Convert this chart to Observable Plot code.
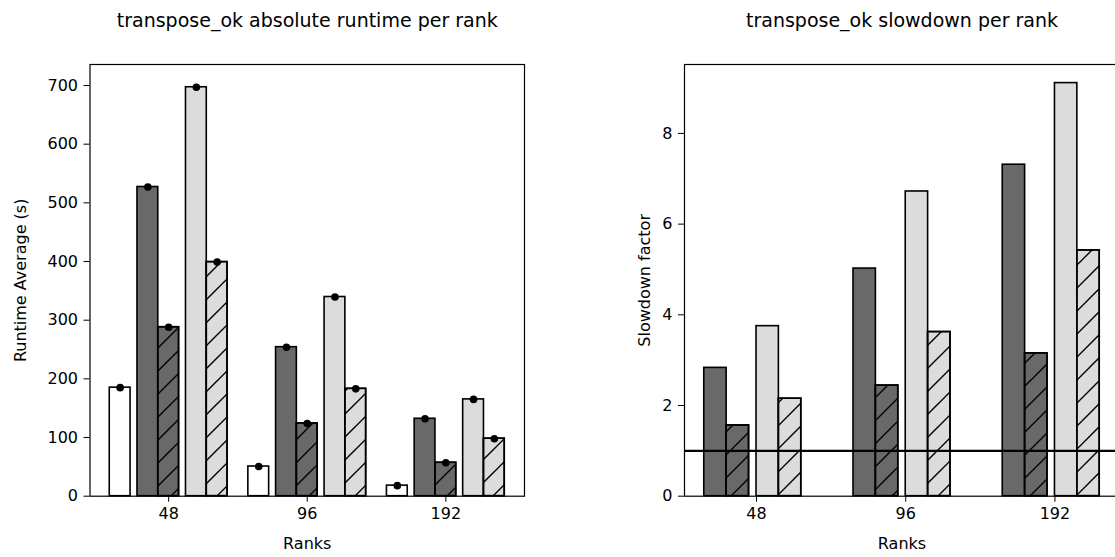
<!DOCTYPE html>
<html><head><meta charset="utf-8">
<script src="https://cdn.jsdelivr.net/npm/d3@7"></script>
<script src="https://cdn.jsdelivr.net/npm/@observablehq/plot@0.6"></script>
<style>
html,body{margin:0;padding:0;background:#fff;overflow:hidden;width:1115px;height:557px}
#wrap{position:relative;width:1115px;height:557px;overflow:hidden}
#wrap > svg{position:absolute;top:0}
</style></head><body>
<svg width="0" height="0" style="position:absolute">
<defs><pattern id="hatch" patternUnits="userSpaceOnUse" width="23" height="23">
<path d="M-3,3 L3,-3 M0,23 L23,0 M20,26 L26,20" stroke="#000" stroke-width="1.4" fill="none"/>
</pattern></defs></svg>
<div id="wrap"></div>
<script>
// ---- data ----
const ranks = ["48", "96", "192"];
// absolute runtime (s)
const runtimeBase       = [185, 50.6, 18];
const runtimeDark       = [527, 254, 132];
const runtimeDarkHatch  = [288, 124, 57];
const runtimeLight      = [697, 339.5, 165];
const runtimeLightHatch = [399, 183, 98];
// small error extents (s)
const errBase       = [1, 1, 1];
const errDark       = [2, 2, 4];
const errDarkHatch  = [2, 2, 2];
const errLight      = [1, 2, 1];
const errLightHatch = [1, 1, 1];
// slowdown factor
const slowDark       = [2.83, 5.02, 7.31];
const slowDarkHatch  = [1.56, 2.44, 3.15];
const slowLight      = [3.75, 6.72, 9.11];
const slowLightHatch = [2.15, 3.62, 5.42];
const baselineFactor = [1];
const yTicksLeft  = [0, 100, 200, 300, 400, 500, 600, 700];
const yTicksRight = [0, 2, 4, 6, 8];

// ---- style / layout ----
const FONT = "DejaVu Sans";
const TICK_FS = 16, TITLE_FS = 19;
const DARK = "#696969", LIGHT = "#dcdcdc", WHITE = "#ffffff";
const BW = 0.15;

function rows(vals, errs, off, fill, hatch) {
  return vals.map((v, i) => ({g: i, value: v, err: errs ? errs[i] : 0, off, fill, hatch}));
}

const leftRows = [
  ...rows(runtimeBase, errBase, -0.35, WHITE, false),
  ...rows(runtimeDark, errDark, -0.15, DARK, false),
  ...rows(runtimeDarkHatch, errDarkHatch, 0, DARK, true),
  ...rows(runtimeLight, errLight, 0.2, LIGHT, false),
  ...rows(runtimeLightHatch, errLightHatch, 0.35, LIGHT, true)
];
const rightRows = [
  ...rows(slowDark, null, -0.275, DARK, false),
  ...rows(slowDarkHatch, null, -0.125, DARK, true),
  ...rows(slowLight, null, 0.075, LIGHT, false),
  ...rows(slowLightHatch, null, 0.225, LIGHT, true)
];

function barMarks(data) {
  const x1 = d => d.g + d.off - BW / 2, x2 = d => d.g + d.off + BW / 2;
  return [
    Plot.rectY(data, {x1, x2, y1: 0, y2: "value", fill: "fill", stroke: "#000", strokeWidth: 1.6}),
    Plot.rectY(data.filter(d => d.hatch), {x1, x2, y1: 0, y2: "value", fill: "url(#hatch)", stroke: "#000", strokeWidth: 1.6})
  ];
}

function common(title, ylabel, ylabelDx, ticks) {
  return [
    Plot.frame({stroke: "#000", strokeWidth: 1.2}),
    Plot.axisY({ticks, tickSize: 6, tickPadding: 6, fontSize: TICK_FS, label: null}),
    Plot.axisX({ticks: [0, 1, 2], tickFormat: i => ranks[i], tickSize: 6, tickPadding: 5, fontSize: TICK_FS, label: null}),
    Plot.text([title], {text: d => d, frameAnchor: "top", dy: -44, fontSize: TITLE_FS, lineAnchor: "middle", textAnchor: "middle"}),
    Plot.text([ylabel], {text: d => d, frameAnchor: "left", dx: ylabelDx, rotate: -90, fontSize: TICK_FS, lineAnchor: "middle", textAnchor: "middle"}),
    Plot.text(["Ranks"], {text: d => d, frameAnchor: "bottom", dy: 48, fontSize: TICK_FS, lineAnchor: "middle", textAnchor: "middle"})
  ];
}

const left = Plot.plot({
  width: 560, height: 557,
  marginLeft: 89.5, marginRight: 36, marginTop: 64, marginBottom: 61.3,
  style: {fontFamily: FONT, color: "#000", background: "transparent", overflow: "visible"},
  color: {type: "identity"},
  x: {type: "linear", domain: [-0.5675, 2.5675]},
  y: {domain: [0, 735.8]},
  marks: [
    ...barMarks(leftRows),
    Plot.ruleX(leftRows, {x: d => d.g + d.off, y1: d => d.value - d.err, y2: d => d.value + d.err, stroke: "#000", strokeWidth: 1.5}),
    Plot.dot(leftRows, {x: d => d.g + d.off, y: "value", r: 3.8, fill: "#000", stroke: null}),
    ...common("transpose_ok absolute runtime per rank", "Runtime Average (s)", -69.5, yTicksLeft)
  ]
});

const right = Plot.plot({
  width: 560, height: 557,
  marginLeft: 124, marginRight: 1, marginTop: 64, marginBottom: 61.3,
  style: {fontFamily: FONT, color: "#000", background: "transparent", overflow: "visible"},
  color: {type: "identity"},
  x: {type: "linear", domain: [-0.4825, 2.4325]},
  y: {domain: [0, 9.52]},
  marks: [
    ...barMarks(rightRows),
    Plot.ruleY(baselineFactor, {stroke: "#000", strokeWidth: 2.2}),
    ...common("transpose_ok slowdown per rank", "Slowdown factor", -40, yTicksRight)
  ]
});

left.style.left = "0px";
right.style.left = "560px";
const wrap = document.getElementById("wrap");
wrap.appendChild(left);
wrap.appendChild(right);
</script>
</body></html>
